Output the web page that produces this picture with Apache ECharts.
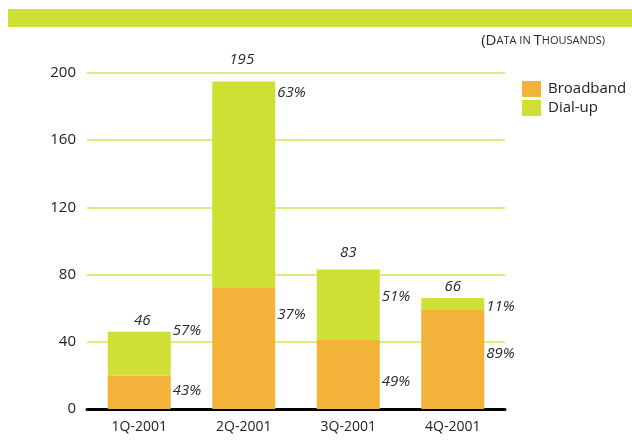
<!DOCTYPE html>
<html>
<head>
<meta charset="utf-8">
<script src="https://cdn.jsdelivr.net/npm/echarts@6/dist/echarts.min.js"></script>
<style>
html,body{margin:0;padding:0;background:#fff;}
#chart{width:632px;height:448px;}
</style>
</head>
<body>
<div id="chart"></div>
<script>
// ---- data ----
var categories = ['1Q-2001', '2Q-2001', '3Q-2001', '4Q-2001'];
var broadband = [20, 72, 41, 59];
var dialup = [26, 123, 42, 7];
var totals = [46, 195, 83, 66];
var broadbandPct = ['43%', '37%', '49%', '89%'];
var dialupPct = ['57%', '63%', '51%', '11%'];
var yTicks = [0, 40, 80, 120, 160, 200];

// ---- label nudges (layout only) ----
var bbShift = [-1, -34, 7, -6];
var duShift = [-23, -92, -8, 3];
var totShift = [-11, -22, -17, -11];
var totXShift = [3, -2, 0, 0];

var ORANGE = '#F3B23A';
var GREEN = '#CFE035';
var FONT = '"Open Sans", "Noto Sans", sans-serif';

var chart = echarts.init(document.getElementById('chart'), null, {renderer: 'canvas'});

var pctLabel = {
  show: true, position: 'right', distance: 2,
  fontFamily: FONT, fontSize: 15, fontStyle: 'italic', color: '#2a2a2a'
};

var option = {
  animation: false,
  backgroundColor: '#fff',
  graphic: [
    {type: 'rect', shape: {x: 8, y: 9, width: 624, height: 18}, style: {fill: GREEN}, silent: true},
    {type: 'text', right: 27, top: 33, style: {
      rich: {
        b: {fontFamily: FONT, fontSize: 15, fill: '#2a2a2a'},
        s: {fontFamily: FONT, fontSize: 11, fill: '#2a2a2a'}
      },
      text: '{b|(D}{s|ATA IN }{b|T}{s|HOUSANDS)}'
    }}
  ],
  legend: {
    orient: 'vertical', left: 517, top: 76,
    itemWidth: 19, itemHeight: 16, itemGap: 3,
    icon: 'rect',
    textStyle: {fontFamily: FONT, fontSize: 15, color: '#222', padding: [0, 0, 0, 2]},
    data: ['Broadband', 'Dial-up']
  },
  grid: {left: 87, right: 127, top: 73, bottom: 39, containLabel: false},
  xAxis: {
    type: 'category', data: categories,
    axisLine: {show: true, lineStyle: {color: '#000', width: 3}},
    axisTick: {show: false},
    axisLabel: {fontFamily: FONT, fontSize: 14, color: '#222', margin: 11}
  },
  yAxis: {
    type: 'value', min: yTicks[0], max: yTicks[yTicks.length - 1], interval: 40,
    axisLine: {show: false}, axisTick: {show: false},
    axisLabel: {fontFamily: FONT, fontSize: 15, color: '#222', margin: 11},
    splitLine: {show: true, lineStyle: {color: '#D3E35A', width: 1.5}}
  },
  series: [
    {
      name: 'Broadband', type: 'bar', stack: 'all', barWidth: 63,
      itemStyle: {color: ORANGE},
      data: broadband.map(function (v, i) {
        return {value: v, label: Object.assign({}, pctLabel, {
          offset: [0, bbShift[i]],
          formatter: broadbandPct[i]
        })};
      })
    },
    {
      name: 'Dial-up', type: 'bar', stack: 'all', barWidth: 63,
      itemStyle: {color: GREEN},
      data: dialup.map(function (v, i) {
        return {value: v, label: Object.assign({}, pctLabel, {
          offset: [0, duShift[i]],
          formatter: dialupPct[i]
        })};
      })
    },
    {
      name: 'Total', type: 'scatter', symbolSize: 0, silent: true,
      itemStyle: {opacity: 1},
      data: totals.map(function (v, i) {
        return {value: [i, v], label: {
          show: true, position: 'inside', offset: [totXShift[i], totShift[i]],
          formatter: String(v), opacity: 1,
          fontFamily: FONT, fontSize: 15, fontStyle: 'italic', color: '#2a2a2a'
        }};
      })
    }
  ]
};
chart.setOption(option);
</script>
</body>
</html>
